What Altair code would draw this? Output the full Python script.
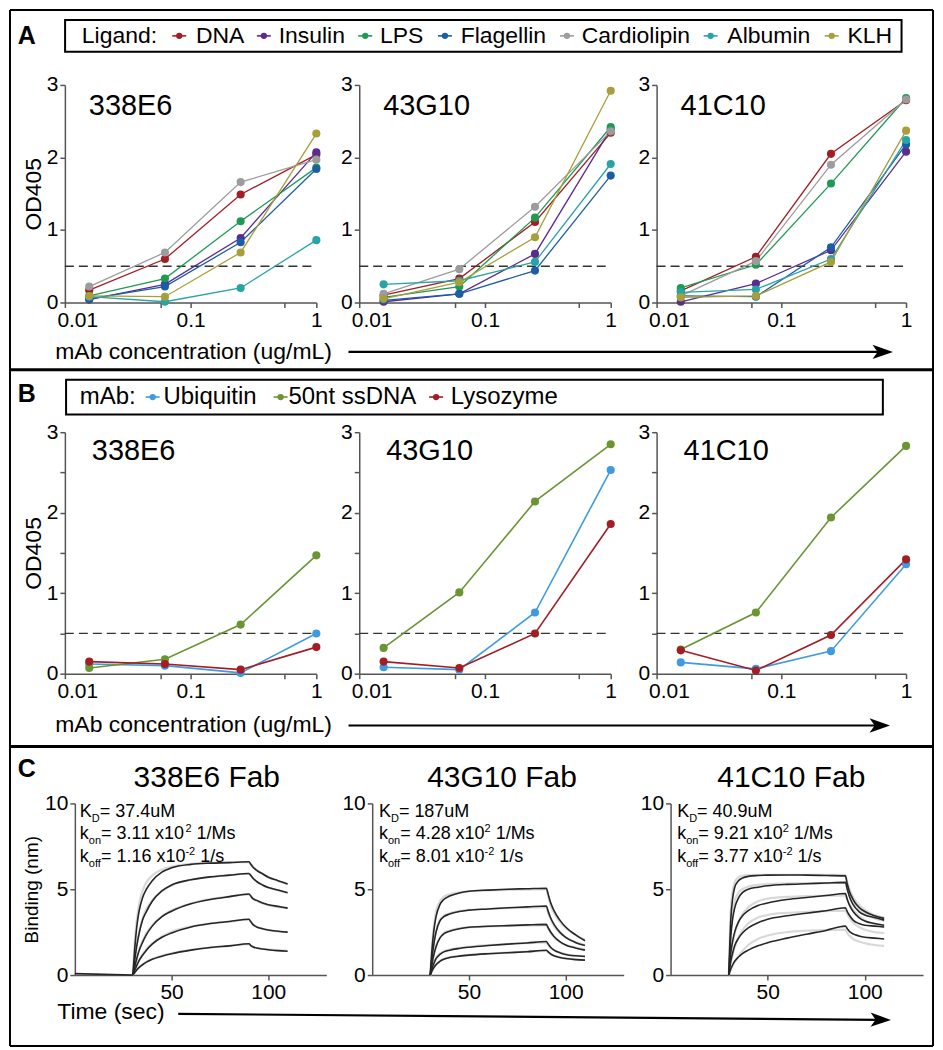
import altair as alt
import pandas as pd

FONT = "Liberation Sans"

# ---------------------------------------------------------------- data
CONC = [0.015625, 0.0625, 0.25, 1.0]
MABS = ["338E6", "43G10", "41C10"]
CUTOFF = 0.5

LIGANDS = ["DNA", "Insulin", "LPS", "Flagellin", "Cardiolipin", "Albumin", "KLH"]
LIGAND_COLORS = ["#a31d24", "#5b2c8f", "#1f9a55", "#1c5ea6", "#9c9c9c", "#28a4a6", "#a69f3a"]

OD_A_338E6 = [
    [0.17, 0.60, 1.49, 2.04],
    [0.04, 0.25, 0.89, 2.07],
    [0.09, 0.33, 1.12, 1.86],
    [0.05, 0.22, 0.83, 1.84],
    [0.22, 0.69, 1.66, 1.97],
    [0.08, 0.01, 0.20, 0.86],
    [0.09, 0.08, 0.69, 2.33],
]
OD_A_43G10 = [
    [0.10, 0.33, 1.11, 2.34],
    [0.01, 0.12, 0.67, 2.39],
    [0.07, 0.22, 1.17, 2.42],
    [0.03, 0.12, 0.44, 1.75],
    [0.12, 0.46, 1.32, 2.36],
    [0.25, 0.30, 0.56, 1.91],
    [0.05, 0.28, 0.90, 2.92],
]
OD_A_41C10 = [
    [0.16, 0.63, 2.05, 2.79],
    [0.01, 0.26, 0.72, 2.08],
    [0.20, 0.52, 1.64, 2.82],
    [0.09, 0.08, 0.76, 2.18],
    [0.09, 0.57, 1.90, 2.80],
    [0.14, 0.18, 0.60, 2.24],
    [0.07, 0.09, 0.56, 2.37],
]

PROBES = ["Ubiquitin", "50nt ssDNA", "Lysozyme"]
PROBE_COLORS = ["#3f9be0", "#6b9433", "#a31d24"]
OD_B_338E6 = [
    [0.12, 0.10, 0.01, 0.50],
    [0.07, 0.18, 0.61, 1.47],
    [0.15, 0.12, 0.05, 0.33],
]
OD_B_43G10 = [
    [0.08, 0.05, 0.76, 2.53],
    [0.32, 1.01, 2.14, 2.85],
    [0.15, 0.07, 0.50, 1.86],
]
OD_B_41C10 = [
    [0.14, 0.06, 0.28, 1.36],
    [0.30, 0.76, 1.94, 2.83],
    [0.29, 0.04, 0.48, 1.42],
]

TIME = [30, 31, 32, 33, 35, 37, 40, 45, 50, 60, 70, 80, 90, 91, 92, 94, 97, 100, 105, 110]
FABS = ["338E6 Fab", "43G10 Fab", "41C10 Fab"]
KD = ["37.4uM", "187uM", "40.9uM"]
KON = ["3.11", "4.28", "9.21"]
KOFF = ["1.16", "8.01", "3.77"]
BASELINE_T = [0, 30]
BASELINE_V = [0.08, 0.0]

BIND_338E6 = [
    [0, 1.6, 2.8, 3.6, 4.5, 5.0, 5.5, 6.0, 6.25, 6.45, 6.52, 6.55, 6.6, 6.45, 6.3, 6.1, 5.9, 5.7, 5.5, 5.3],
    [0, 0.9, 1.7, 2.3, 3.2, 3.7, 4.3, 4.9, 5.25, 5.55, 5.72, 5.82, 5.92, 5.8, 5.65, 5.45, 5.25, 5.1, 4.95, 4.8],
    [0, 0.5, 0.95, 1.35, 1.9, 2.35, 2.85, 3.4, 3.72, 4.15, 4.4, 4.57, 4.72, 4.6, 4.45, 4.35, 4.2, 4.1, 4.0, 3.9],
    [0, 0.3, 0.55, 0.8, 1.15, 1.45, 1.8, 2.2, 2.45, 2.8, 3.0, 3.12, 3.25, 3.1, 2.95, 2.8, 2.7, 2.62, 2.55, 2.5],
    [0, 0.15, 0.3, 0.42, 0.6, 0.75, 0.92, 1.1, 1.24, 1.45, 1.6, 1.7, 1.82, 1.72, 1.65, 1.57, 1.52, 1.47, 1.42, 1.39],
]
FIT_338E6 = [
    [0, 2.0, 3.2, 4.0, 4.9, 5.4, 5.8, 6.15, 6.32, 6.48, 6.54, 6.57, 6.58, 6.45, 6.33, 6.13, 5.9, 5.72, 5.48, 5.3],
    [0, 1.0, 1.8, 2.4, 3.3, 3.85, 4.35, 4.9, 5.22, 5.55, 5.72, 5.82, 5.9, 5.78, 5.66, 5.45, 5.25, 5.1, 4.93, 4.8],
    [0, 0.55, 1.0, 1.4, 2.0, 2.45, 2.9, 3.42, 3.77, 4.17, 4.42, 4.57, 4.7, 4.6, 4.48, 4.33, 4.18, 4.07, 3.96, 3.9],
    [0, 0.3, 0.55, 0.8, 1.2, 1.5, 1.85, 2.25, 2.52, 2.82, 3.0, 3.12, 3.22, 3.12, 2.98, 2.82, 2.7, 2.62, 2.55, 2.5],
    [0, 0.15, 0.3, 0.43, 0.62, 0.77, 0.94, 1.14, 1.27, 1.47, 1.6, 1.7, 1.8, 1.72, 1.65, 1.58, 1.52, 1.48, 1.44, 1.42],
]
BIND_43G10 = [
    [0, 1.6, 2.7, 3.4, 4.1, 4.4, 4.6, 4.78, 4.88, 4.95, 5.0, 5.03, 5.06, 4.7, 4.3, 3.75, 3.2, 2.8, 2.35, 2.0],
    [0, 1.1, 1.9, 2.5, 3.15, 3.4, 3.55, 3.7, 3.78, 3.85, 3.92, 3.97, 4.02, 3.7, 3.4, 2.95, 2.5, 2.2, 1.9, 1.72],
    [0, 0.7, 1.25, 1.65, 2.15, 2.4, 2.55, 2.7, 2.78, 2.84, 2.88, 2.92, 2.95, 2.75, 2.55, 2.25, 1.95, 1.75, 1.58, 1.45],
    [0, 0.4, 0.7, 0.95, 1.2, 1.35, 1.45, 1.55, 1.62, 1.72, 1.8, 1.87, 1.95, 1.8, 1.65, 1.45, 1.3, 1.2, 1.12, 1.08],
    [0, 0.25, 0.45, 0.6, 0.8, 0.92, 1.02, 1.1, 1.16, 1.24, 1.3, 1.36, 1.44, 1.35, 1.25, 1.12, 1.02, 0.96, 0.9, 0.87],
]
FIT_43G10 = [
    [0, 1.9, 3.0, 3.7, 4.3, 4.55, 4.7, 4.82, 4.88, 4.93, 4.96, 4.98, 5.0, 4.55, 4.15, 3.6, 3.1, 2.75, 2.35, 2.05],
    [0, 1.2, 2.0, 2.6, 3.2, 3.45, 3.6, 3.72, 3.8, 3.86, 3.9, 3.93, 3.96, 3.6, 3.3, 2.85, 2.45, 2.2, 1.92, 1.75],
    [0, 0.75, 1.3, 1.7, 2.2, 2.45, 2.6, 2.72, 2.78, 2.83, 2.86, 2.88, 2.9, 2.7, 2.5, 2.2, 1.92, 1.75, 1.6, 1.5],
    [0, 0.45, 0.75, 1.0, 1.25, 1.38, 1.48, 1.58, 1.65, 1.74, 1.81, 1.86, 1.9, 1.76, 1.62, 1.45, 1.32, 1.22, 1.14, 1.1],
    [0, 0.28, 0.48, 0.62, 0.82, 0.94, 1.04, 1.12, 1.18, 1.25, 1.31, 1.36, 1.4, 1.32, 1.24, 1.12, 1.03, 0.97, 0.92, 0.89],
]
BIND_41C10 = [
    [0, 3.2, 4.5, 5.1, 5.5, 5.65, 5.75, 5.8, 5.82, 5.83, 5.82, 5.8, 5.78, 5.3, 4.9, 4.4, 3.95, 3.7, 3.45, 3.3],
    [0, 2.2, 3.3, 3.9, 4.5, 4.8, 5.0, 5.12, 5.2, 5.28, 5.32, 5.36, 5.4, 5.0, 4.6, 4.1, 3.7, 3.5, 3.35, 3.2],
    [0, 1.3, 2.0, 2.5, 3.1, 3.45, 3.75, 4.05, 4.2, 4.4, 4.52, 4.63, 4.75, 4.4, 4.1, 3.7, 3.35, 3.15, 3.0, 2.9],
    [0, 0.8, 1.3, 1.7, 2.15, 2.45, 2.75, 3.05, 3.25, 3.45, 3.6, 3.75, 3.92, 3.7, 3.5, 3.2, 3.0, 2.9, 2.85, 2.8],
    [0, 0.35, 0.6, 0.8, 1.05, 1.25, 1.45, 1.7, 1.88, 2.15, 2.38, 2.6, 2.85, 2.7, 2.55, 2.4, 2.28, 2.2, 2.15, 2.1],
]
FIT_41C10 = [
    [0, 3.8, 4.9, 5.4, 5.7, 5.78, 5.82, 5.84, 5.84, 5.84, 5.84, 5.84, 5.84, 5.4, 5.05, 4.55, 4.1, 3.8, 3.5, 3.35],
    [0, 2.6, 3.7, 4.3, 4.8, 5.0, 5.15, 5.25, 5.3, 5.33, 5.35, 5.36, 5.37, 5.0, 4.7, 4.25, 3.85, 3.6, 3.3, 3.15],
    [0, 1.2, 1.9, 2.4, 3.1, 3.55, 3.95, 4.3, 4.45, 4.55, 4.6, 4.62, 4.64, 4.4, 4.15, 3.8, 3.45, 3.2, 2.95, 2.8],
    [0, 0.7, 1.2, 1.6, 2.2, 2.6, 3.0, 3.35, 3.5, 3.62, 3.68, 3.72, 3.75, 3.55, 3.35, 3.05, 2.8, 2.65, 2.5, 2.45],
    [0, 0.3, 0.55, 0.75, 1.1, 1.4, 1.75, 2.1, 2.3, 2.5, 2.58, 2.62, 2.65, 2.45, 2.3, 2.1, 1.95, 1.85, 1.75, 1.7],
]

# ---------------------------------------------------------------- layout
COL_LEFT = [56, 351, 649]
ROW_TOP = [76, 424, 796]
AB_W = [252, 252, 250]
C_W = [262, 265, 267]
C_OFF = [10, 13, 14]
A_H, B_H, C_H = 218, 242, 172
X_TICKS = [0.01, 0.058, 0.1, 0.56, 1]
Y_TICKS = [0, 0.5, 1, 1.5, 2, 2.5, 3]
ARROW_HEAD = "M-1,-0.7L1,0L-1,0.7L-0.5,0Z"


def cx(x):  # reference pixel -> chart pixel
    return (x - 1) * 0.9862


def cy(y):
    return (y - 1) * 0.993


def lx(x, col):
    return cx(x) - COL_LEFT[col]


def ly(y, row):
    return cy(y) - ROW_TOP[row]


D0 = pd.DataFrame({"k": [0]})

ARIAL = {".": 278, " ": 278, "=": 584, "x": 500, "/": 278, "M": 833, "s": 500,
         "u": 556, "K": 667, "k": 500, "-": 333, "D": 722, "o": 556, "n": 556, "f": 278}


def tw(s, size):
    return sum(ARIAL.get(c, 556) for c in s) * size / 1000.0


def mtext(x, y, s, size, weight="normal", align="left", baseline="alphabetic", font=FONT):
    return alt.Chart(D0).mark_text(
        text=s, font=font, fontSize=size, fontWeight=weight, align=align,
        baseline=baseline, color="black"
    ).encode(x=alt.value(x), y=alt.value(y))


def mrule(x1, y1, x2, y2, width=2.0, color="black"):
    return alt.Chart(D0).mark_rule(color=color, strokeWidth=width).encode(
        x=alt.value(x1), x2=alt.value(x2), y=alt.value(y1), y2=alt.value(y2)
    )


def mbox(x1, x2, y1, y2, width=2.0):
    return alt.Chart(D0).mark_rect(fillOpacity=0, stroke="black", strokeWidth=width).encode(
        x=alt.value(x1), x2=alt.value(x2), y=alt.value(y1), y2=alt.value(y2)
    )


def mdot(x, y, color, size=40):
    return alt.Chart(D0).mark_circle(color=color, size=size, opacity=1).encode(
        x=alt.value(x), y=alt.value(y)
    )


def arrow(x1, y1, x2, y2, angle=0):
    head = alt.Chart(D0).mark_point(
        shape=ARROW_HEAD, filled=True, size=420, color="black", opacity=1, angle=angle
    ).encode(x=alt.value(x2 - 10), y=alt.value(y2))
    return [mrule(x1, y1, x2 - 12, y2, width=2.2), head]


def legend_layers(row, col, box, title, title_x, names, colors, mark_x, text_x, cy_ref, size):
    layers = [mbox(lx(box[0], col), lx(box[1], col), ly(box[2], row), ly(box[3], row))]
    yy = ly(cy_ref, row)
    layers.append(mtext(lx(title_x, col), yy, title, size, baseline="middle"))
    for name, color, mx, tx in zip(names, colors, mark_x, text_x):
        m = lx(mx, col)
        layers.append(mrule(m - 7, yy, m + 7, yy, width=1.6, color=color))
        layers.append(mdot(m, yy, color))
        layers.append(mtext(lx(tx, col), yy, name, size, baseline="middle"))
    return layers


def od_frame(values, names):
    recs = []
    for name, vals in zip(names, values):
        for c, v in zip(CONC, vals):
            recs.append({"conc": c, "od": v, "series": name})
    return pd.DataFrame(recs)


FIRST_LABEL = "datum.value === 0.01"


def od_panel(row, col, values, names, colors, height, title_dx, title_base, line_w, extra):
    w = AB_W[col]
    df = od_frame(values, names)
    x = alt.X("conc:Q", scale=alt.Scale(type="log", domain=[0.01, 1], nice=False),
              axis=alt.Axis(values=X_TICKS, title=None, labelOverlap=False, labelFontSize=21,
                            labelAlign={"condition": {"test": FIRST_LABEL, "value": "left"}, "value": "center"},
                            labelOffset={"condition": {"test": FIRST_LABEL, "value": -8}, "value": 0},
                            labelExpr="datum.value === 0.01 ? '0.01' : (datum.value === 0.1 ? '0.1' : (datum.value === 1 ? '1' : ''))"))
    yaxis = dict(values=Y_TICKS, labelFontSize=21,
                 labelExpr="datum.value % 1 === 0 ? format(datum.value, 'd') : ''")
    if col == 0:
        yaxis.update(title="OD405", titleFontSize=23, titlePadding=1)
    else:
        yaxis.update(title=None)
    y = alt.Y("od:Q", scale=alt.Scale(domain=[0, 3], nice=False), axis=alt.Axis(**yaxis))
    color = alt.Color("series:N", scale=alt.Scale(domain=names, range=colors), legend=None)
    base = alt.Chart(df)
    lines = base.mark_line(strokeWidth=line_w).encode(x=x, y=y, color=color)
    pts = base.mark_circle(size=66, opacity=1).encode(x=x, y=y, color=color)
    cut = alt.Chart(pd.DataFrame({"od": [CUTOFF]})).mark_rule(
        strokeDash=[9, 5], color="#333333", strokeWidth=1.3
    ).encode(y="od:Q", x=alt.value(0), x2=alt.value(w))
    title = mtext(title_dx, title_base, MABS[col], 29)
    return alt.layer(cut, lines, pts, title, *extra).properties(width=w, height=height)


def bind_frame(traces, fits):
    recs = []
    for i, tr in enumerate(traces):
        for t, v in zip(TIME, tr):
            recs.append({"t": t, "v": v, "trace": "d%d" % i, "kind": "data"})
    for i, tr in enumerate(fits):
        for t, v in zip(TIME, tr):
            recs.append({"t": t, "v": v, "trace": "f%d" % i, "kind": "fit"})
    return pd.DataFrame(recs)


def rich_line(x0, y0, parts):
    out = []
    x = x0
    for s, size, dy, pre in parts:
        if pre:
            x += tw(" ", size)
        out.append(mtext(x, y0 + dy, s, size))
        x += tw(s, size)
    return out


def bind_panel(col, traces, fits, extra):
    off = C_OFF[col]
    w = C_W[col]
    df = bind_frame(traces, fits)
    yaxis = dict(values=[0, 5, 10], offset=-off, labelFontSize=21)
    if col == 0:
        yaxis.update(title="Binding (nm)", titleFontSize=19, titlePadding=3)
    else:
        yaxis.update(title=None)
    x = alt.X("t:Q", scale=alt.Scale(domain=[0, 130], range=[off, w], nice=False),
              axis=alt.Axis(values=[50, 100], title=None, labelFontSize=21))
    y = alt.Y("v:Q", scale=alt.Scale(domain=[0, 10], nice=False), axis=alt.Axis(**yaxis))
    fit_l = alt.Chart(df).transform_filter(alt.datum.kind == "fit").mark_line(
        color="#d9d9d9", strokeWidth=2.2, interpolate="monotone"
    ).encode(x=x, y=y, detail="trace:N")
    dat_l = alt.Chart(df).transform_filter(alt.datum.kind == "data").mark_line(
        color="#262626", strokeWidth=1.6, interpolate="monotone"
    ).encode(x=x, y=y, detail="trace:N")
    layers = [fit_l, dat_l]
    if col == 0:
        bl = pd.DataFrame({"t": BASELINE_T, "v": BASELINE_V})
        layers.append(alt.Chart(bl).mark_line(color="#262626", strokeWidth=1.6).encode(x=x, y=y))
    title_cx = [202, 502, 796][col]
    layers.append(mtext(lx(title_cx, col), ly(786, 2), FABS[col], 30, align="center"))
    ax = lx([73, 377, 680][col], col)
    layers += rich_line(ax, ly(816, 2), [("K", 18, 0, False), ("D", 11, 5, False), ("= " + KD[col], 18, 0, False)])
    layers += rich_line(ax, ly(839, 2), [("k", 18, 0, False), ("on", 11, 5, False),
                                         ("= " + KON[col] + " x10", 18, 0, False), ("2", 11, -7, False),
                                         ("1/Ms", 18, 0, True)])
    layers += rich_line(ax, ly(862, 2), [("k", 18, 0, False), ("off", 11, 5, False),
                                         ("= " + KOFF[col] + " x10", 18, 0, False), ("-2", 11, -7, False),
                                         ("1/s", 18, 0, True)])
    return alt.layer(*layers, *extra).properties(width=w, height=C_H)


# ---------------------------------------------------------------- decorations
# frame and row separators (drawn in panel A1)
FR_L, FR_R, FR_T, FR_B = 1 - COL_LEFT[0], 926 - COL_LEFT[0], 1 - ROW_TOP[0], 1039 - ROW_TOP[0]
SEP1, SEP2 = 361.5 - ROW_TOP[0], 739 - ROW_TOP[0]
frame = [
    mrule(FR_L, FR_T, FR_R, FR_T), mrule(FR_L, FR_B, FR_R, FR_B),
    mrule(FR_L, FR_T, FR_L, FR_B), mrule(FR_R, FR_T, FR_R, FR_B),
    mrule(FR_L, SEP1, FR_R, SEP1, width=3), mrule(FR_L, SEP2, FR_R, SEP2, width=3),
]

deco_a = frame + legend_layers(
    0, 0, (58, 908, 12, 44), "Ligand:", 75, LIGANDS, LIGAND_COLORS,
    [174, 260, 363, 444, 568, 714, 837], [191, 275, 378, 460, 583, 731, 853], 28, 23
)
deco_a.append(mtext(lx(10, 0), ly(36, 0), "A", 25, weight="bold"))
deco_a.append(mtext(lx(48, 0), ly(347, 0), "mAb concentration (ug/mL)", 23, baseline="middle"))
deco_a += arrow(lx(346, 0), ly(347, 0), lx(899, 0), ly(347, 0))

deco_b = legend_layers(
    1, 0, (59, 889, 375, 410), "mAb:", 73, PROBES, PROBE_COLORS,
    [147, 277, 435], [158, 285, 450], 392.5, 24
)
deco_b.append(mtext(lx(10, 0), ly(398, 1), "B", 25, weight="bold"))
deco_b.append(mtext(lx(48, 0), ly(724, 1), "mAb concentration (ug/mL)", 23, baseline="middle"))
deco_b += arrow(lx(346, 0), ly(724, 1), lx(896, 0), ly(724, 1))

deco_c = [mtext(lx(10, 0), ly(776, 2), "C", 25, weight="bold"),
          mtext(lx(50, 0), ly(1013, 2), "Time (sec)", 23, baseline="middle")]
deco_c += arrow(lx(173, 0), ly(1015, 2), lx(897, 0), ly(1021, 2), angle=0.5)

# ---------------------------------------------------------------- panels
A_VALUES = [OD_A_338E6, OD_A_43G10, OD_A_41C10]
B_VALUES = [OD_B_338E6, OD_B_43G10, OD_B_41C10]
C_TRACES = [BIND_338E6, BIND_43G10, BIND_41C10]
C_FITS = [FIT_338E6, FIT_43G10, FIT_41C10]

panels = []
for c in range(3):
    panels.append(od_panel(0, c, A_VALUES[c], LIGANDS, LIGAND_COLORS, A_H, 24, 30, 1.3,
                           deco_a if c == 0 else []))
for c in range(3):
    panels.append(od_panel(1, c, B_VALUES[c], PROBES, PROBE_COLORS, B_H, 27, 28, 1.6,
                           deco_b if c == 0 else []))
for c in range(3):
    panels.append(bind_panel(c, C_TRACES[c], C_FITS[c], deco_c if c == 0 else []))

chart = alt.concat(
    *panels, columns=3, spacing={"row": 130, "column": 33}, bounds="flush", align="each"
).resolve_scale(color="independent").properties(padding=0).configure(
    font=FONT
).configure_view(stroke=None).configure_axis(
    grid=False, domainColor="#555555", domainWidth=1.5, tickColor="#555555", tickWidth=1.5,
    tickSize=5, labelColor="black", labelFont=FONT, labelPadding=2, labelFlush=False,
    titleFont=FONT, titleFontWeight="normal", titleColor="black"
)

chart.save("out.html", embed_options={"renderer": "svg", "actions": False})
